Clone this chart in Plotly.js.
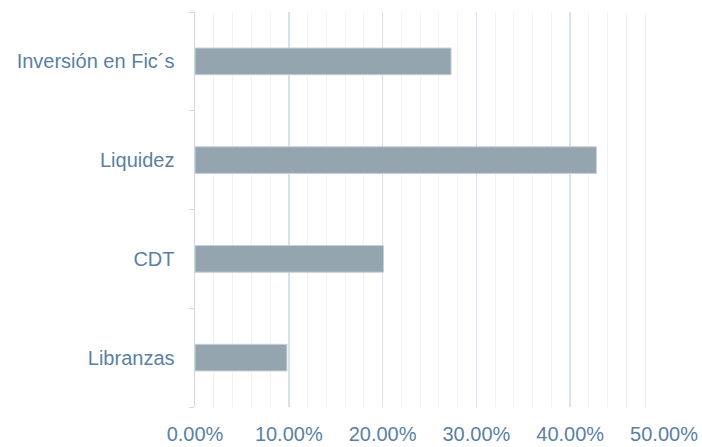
<!DOCTYPE html>
<html><head><meta charset="utf-8">
<script src="https://cdn.plot.ly/plotly-3.0.1.min.js"></script>
<style>html,body{margin:0;padding:0;background:#fff}#c{width:702px;height:447px}</style>
</head><body><div id="c"></div>
<script>
const categories = ["Inversión en Fic´s", "Liquidez", "CDT", "Libranzas"];
const values = [0.273, 0.428, 0.201, 0.098];
const xTickVals = [0, 0.1, 0.2, 0.3, 0.4, 0.5];

const trace = {
  type: "bar", orientation: "h",
  y: categories, x: values,
  width: 0.27,
  marker: {color: "#94a5b0", line: {color: "#c5d0d8", width: 1}},
  hoverinfo: "none"
};
const layout = {
  width: 702, height: 447,
  margin: {l: 195, r: 38, t: 12, b: 40},
  paper_bgcolor: "#fff", plot_bgcolor: "#fff",
  showlegend: false,
  font: {family: "Liberation Sans, Arial, sans-serif", size: 20, color: "#5b7fa3"},
  xaxis: {
    range: [0, 0.5], tickvals: xTickVals, tickformat: ".2%",
    showgrid: true, gridcolor: "#d9e2eb", gridwidth: 1.5,
    minor: {dtick: 0.02, showgrid: true, gridcolor: "#eff3f7", gridwidth: 1},
    zeroline: false, showline: false, ticks: "",
    ticklabelstandoff: 13,
    fixedrange: true
  },
  yaxis: {
    categoryorder: "array", categoryarray: categories.slice().reverse(),
    autorange: true,
    showline: true, linecolor: "#d0d9e2", linewidth: 1.5,
    ticks: "outside", tickson: "boundaries", ticklen: 5, tickcolor: "#d0d9e2", tickwidth: 1,
    showgrid: false, zeroline: false,
    ticklabelstandoff: 15
  }
};
Plotly.newPlot("c", [trace], layout, {displayModeBar: false, staticPlot: true});
</script></body></html>
